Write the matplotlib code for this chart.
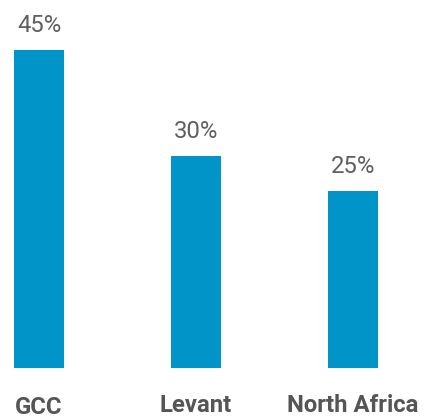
import matplotlib.pyplot as plt

# Regional share of total
regions = ['GCC', 'Levant', 'North Africa']
shares = [45, 30, 25]
label_drop = [46, 44, 44]  # px below the baseline for each region label

bar_color = '#0094c9'
value_color = '#5f5f5f'
name_color = '#555555'

plt.rcParams['font.family'] = ['Roboto', 'DejaVu Sans']

dpi = 100
fig = plt.figure(figsize=(4.37, 4.20), dpi=dpi)
ax = fig.add_axes([0, 52 / 420, 1, 368 / 420])

pos = list(range(len(regions)))
bars = ax.bar(pos, shares, width=50 / 157, color=bar_color)

ax.set_xlim(-39 / 157, 2 + 84 / 157)
ax.set_ylim(0, 45 * 368 / 318)
ax.axis('off')

px = 72 / dpi
for p, v, name, drop in zip(pos, shares, regions, label_drop):
    ax.annotate(f'{v}%', (p, v), xytext=(0, 18 * px), textcoords='offset points',
                ha='center', va='baseline', fontsize=17.2, color=value_color)
    ax.annotate(name, (p, 0), xytext=(0, -drop * px), textcoords='offset points',
                ha='center', va='baseline', fontsize=17.2, fontweight='bold',
                color=name_color, annotation_clip=False)

fig.savefig('out.png', dpi=dpi)
